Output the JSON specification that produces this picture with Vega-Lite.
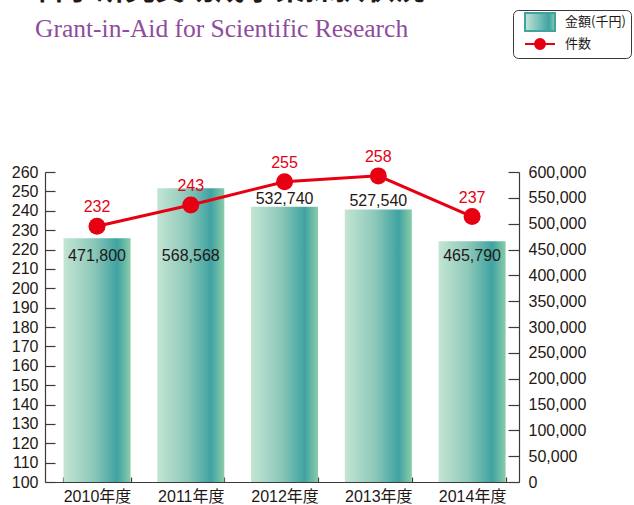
{
  "$schema": "https://vega.github.io/schema/vega-lite/v6.json",
  "autosize": {"type": "none"},
  "padding": {"left": 45, "top": 172, "right": 115, "bottom": 23},
  "width": 474,
  "height": 310,
  "background": "white",
  "config": {
    "view": {"stroke": null},
    "font": "'Liberation Sans','Noto Sans CJK JP',sans-serif",
    "axis": {
      "labelFont": "'Liberation Sans','Noto Sans CJK JP',sans-serif",
      "labelFontSize": 16,
      "labelColor": "#231815",
      "domainColor": "#3e3a39",
      "tickColor": "#3e3a39",
      "domainWidth": 1.2,
      "tickWidth": 1.2,
      "grid": false,
      "labelOverlap": false,
      "title": null
    },
    "axisQuantitative": {"labelOverlap": false},
    "axisY": {"labelOverlap": false}
  },
  "title": {
    "text": "科学研究費助成事業採択状況",
    "subtitle": "Grant-in-Aid for Scientific Research",
    "anchor": "start",
    "frame": "group",
    "font": "'Noto Sans CJK JP',sans-serif",
    "fontSize": 30,
    "fontWeight": "bold",
    "color": "#231815",
    "subtitleFont": "'Liberation Serif',serif",
    "subtitleFontSize": 25.5,
    "subtitleColor": "#8e4c9c",
    "subtitlePadding": 12,
    "offset": -33,
    "dx": -10
  },
  "data": {
    "values": [
      {"year": "2010年度", "amount": 471800, "count": 232},
      {"year": "2011年度", "amount": 568568, "count": 243},
      {"year": "2012年度", "amount": 532740, "count": 255},
      {"year": "2013年度", "amount": 527540, "count": 258},
      {"year": "2014年度", "amount": 465790, "count": 237}
    ]
  },
  "encoding": {
    "x": {
      "field": "year",
      "type": "ordinal",
      "sort": null,
      "scale": {"paddingInner": 0.285, "paddingOuter": 0.17, "align": 0.58},
      "axis": {"labelAngle": 0, "tickBand": "extent", "tickSize": -5, "labelPadding": 11, "labelOverlap": false}
    }
  },
  "layer": [
    {
      "layer": [
        {
          "mark": {
            "type": "bar",
            "fill": {
              "gradient": "linear",
              "x1": 0, "y1": 0, "x2": 1, "y2": 0,
              "stops": [
                {"offset": 0, "color": "#c4e5d4"},
                {"offset": 0.45, "color": "#8cc8b9"},
                {"offset": 0.8, "color": "#3fa3a2"},
                {"offset": 1, "color": "#8acca8"}
              ]
            }
          },
          "encoding": {
            "y": {
              "field": "amount",
              "type": "quantitative",
              "scale": {"domain": [0, 600000], "nice": false},
              "axis": {
                "orient": "right",
                "values": [0, 50000, 100000, 150000, 200000, 250000, 300000, 350000, 400000, 450000, 500000, 550000, 600000],
                "format": ",d",
                "tickSize": -11,
                "labelPadding": 20,
                "labelOverlap": false
              }
            }
          }
        },
        {
          "transform": [{"filter": "indexof(['2012年度','2013年度'], datum.year) < 0"}],
          "mark": {"type": "text", "fontSize": 16, "color": "#231815", "baseline": "alphabetic"},
          "encoding": {
            "y": {
              "datum": 428000,
              "type": "quantitative",
              "axis": {
                "orient": "right",
                "values": [0, 50000, 100000, 150000, 200000, 250000, 300000, 350000, 400000, 450000, 500000, 550000, 600000],
                "format": ",d",
                "tickSize": -11,
                "labelPadding": 20,
                "labelOverlap": false
              }
            },
            "text": {"field": "amount", "type": "quantitative", "format": ",d"}
          }
        },
        {
          "transform": [{"filter": "indexof(['2012年度','2013年度'], datum.year) >= 0"}],
          "mark": {"type": "text", "fontSize": 16, "color": "#231815", "baseline": "alphabetic", "dy": -3},
          "encoding": {
            "y": {
              "field": "amount",
              "type": "quantitative",
              "axis": {
                "orient": "right",
                "values": [0, 50000, 100000, 150000, 200000, 250000, 300000, 350000, 400000, 450000, 500000, 550000, 600000],
                "format": ",d",
                "tickSize": -11,
                "labelPadding": 20,
                "labelOverlap": false
              }
            },
            "text": {"field": "amount", "type": "quantitative", "format": ",d"}
          }
        }
      ]
    },
    {
      "layer": [
        {
          "mark": {"type": "line", "strokeWidth": 3},
          "encoding": {
            "y": {
              "field": "count",
              "type": "quantitative",
              "scale": {"domain": [100, 260], "nice": false},
              "axis": {
                "orient": "left",
                "values": [100, 110, 120, 130, 140, 150, 160, 170, 180, 190, 200, 210, 220, 230, 240, 250, 260],
                "tickSize": -10,
                "labelPadding": 17,
                "labelOverlap": false
              }
            },
            "stroke": {
              "datum": "件数",
              "type": "nominal",
              "scale": {"domain": ["金額(千円)", "件数"], "range": ["#3fa3a2", "#e60012"]},
              "legend": {
                "title": null,
                "orient": "none",
                "legendX": 468,
                "legendY": -162,
                "padding": 5,
                "symbolOffset": 15,
                "labelOffset": 18,
                "rowPadding": 0,
                "strokeColor": "#3e3a39",
                "cornerRadius": 5,
                "fillColor": "white",
                "labelFont": "'Noto Sans CJK JP',sans-serif",
                "labelFontSize": 13,
                "labelColor": "#231815",
                "symbolSize": 144,
                "symbolStrokeWidth": 2,
                "encode": {
                  "symbols": {
                    "update": {
                      "shape": {"signal": "datum.value === '件数' ? 'M-2.5,0H2.5M0.83,0A0.83,0.83,0,1,1,-0.83,0A0.83,0.83,0,1,1,0.83,0Z' : 'M-2.5,-1.5H2.5V1.5H-2.5Z'"},
                      "fill": [
                        {"test": "datum.value === '件数'", "value": "#e60012"},
                        {"value": {
                          "gradient": "linear",
                          "x1": 0, "y1": 0, "x2": 1, "y2": 0,
                          "stops": [
                            {"offset": 0, "color": "#c4e5d4"},
                            {"offset": 0.8, "color": "#3fa3a2"},
                            {"offset": 1, "color": "#8acca8"}
                          ]
                        }}
                      ],
                      "stroke": [
                        {"test": "datum.value === '件数'", "value": "#e60012"},
                        {"value": "transparent"}
                      ],
                      "strokeWidth": {"value": 2},
                      "opacity": {"value": 1},
                      "fillOpacity": {"value": 1},
                      "size": {"value": 144}
                    }
                  }
                }
              }
            }
          }
        },
        {
          "mark": {"type": "point", "filled": true, "size": 289, "color": "#e60012", "opacity": 1},
          "encoding": {
            "y": {
              "field": "count",
              "type": "quantitative",
              "axis": {
                "orient": "left",
                "values": [100, 110, 120, 130, 140, 150, 160, 170, 180, 190, 200, 210, 220, 230, 240, 250, 260],
                "tickSize": -10,
                "labelPadding": 17,
                "labelOverlap": false
              }
            }
          }
        },
        {
          "mark": {"type": "text", "fontSize": 16, "color": "#e60012", "baseline": "alphabetic", "dy": -14},
          "encoding": {
            "y": {
              "field": "count",
              "type": "quantitative",
              "axis": {
                "orient": "left",
                "values": [100, 110, 120, 130, 140, 150, 160, 170, 180, 190, 200, 210, 220, 230, 240, 250, 260],
                "tickSize": -10,
                "labelPadding": 17,
                "labelOverlap": false
              }
            },
            "text": {"field": "count", "type": "quantitative"}
          }
        }
      ]
    }
  ],
  "resolve": {"scale": {"y": "independent"}}
}
